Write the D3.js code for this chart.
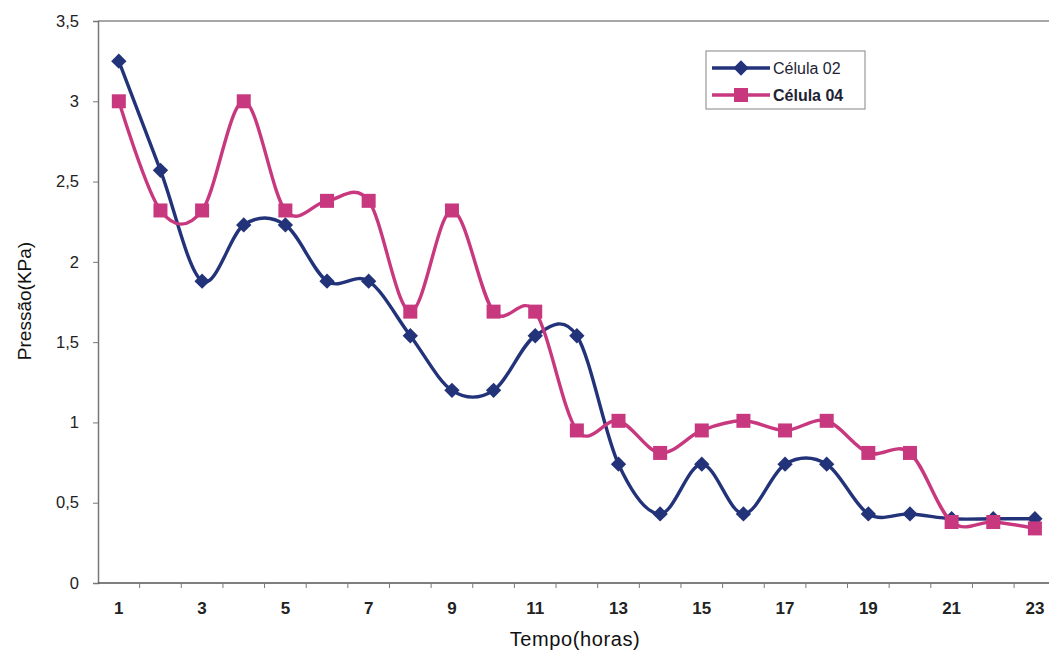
<!DOCTYPE html>
<html>
<head>
<meta charset="utf-8">
<script src="https://cdn.jsdelivr.net/npm/d3@7"></script>
<style>
  body { margin: 0; background: #fff; }
  svg { display: block; font-family: "Liberation Sans", Arial, sans-serif; }
</style>
</head>
<body>
<svg id="chart" width="1049" height="659"></svg>
<script>
// Hours of measurement (category axis)
const hours = d3.range(1, 24);
const xTickLabels = [1, 3, 5, 7, 9, 11, 13, 15, 17, 19, 21, 23];
const yTicks = [0, 0.5, 1, 1.5, 2, 2.5, 3, 3.5];

// Pressure readings (KPa)
const celula02 = [3.25, 2.57, 1.88, 2.23, 2.23, 1.88, 1.88, 1.54, 1.2, 1.2, 1.54, 1.54,
                  0.74, 0.43, 0.74, 0.43, 0.74, 0.74, 0.43, 0.43, 0.40, 0.40, 0.40];
const celula04 = [3.0, 2.32, 2.32, 3.0, 2.32, 2.38, 2.38, 1.69, 2.32, 1.69, 1.69, 0.95,
                  1.01, 0.81, 0.95, 1.01, 0.95, 1.01, 0.81, 0.81, 0.38, 0.38, 0.34];

const seriesNames = ["Célula 02", "Célula 04"];
const seriesColors = ["#23337a", "#c8387f"];

const svg = d3.select("#chart");
const plotLeft = 98, plotTop = 21, plotBottom = 583;
const band = 41.64;
const plotRight = plotLeft + band * hours.length;

const x = d3.scaleBand().domain(hours).range([plotLeft, plotRight]).paddingInner(0).paddingOuter(0);
const xc = d => x(d) + x.bandwidth() / 2;
const y = d3.scaleLinear().domain([0, 3.5]).range([plotBottom, plotTop]);

// top frame line
svg.append("line").attr("x1", plotLeft).attr("x2", 1049).attr("y1", plotTop).attr("y2", plotTop)
  .attr("stroke", "#8a8a8a").attr("stroke-width", 1.5);

// y axis
const yAxis = d3.axisLeft(y).tickValues(yTicks).tickSize(5)
  .tickFormat(d => String(d).replace(".", ","));
const gy = svg.append("g").attr("transform", `translate(${plotLeft},0)`).call(yAxis);
gy.select(".domain").attr("stroke", "#777").attr("stroke-width", 1.5);
gy.selectAll(".tick line").attr("stroke", "#777");
gy.selectAll(".tick text").attr("font-size", 16.5).attr("fill", "#222").attr("x", -19)
  .attr("font-family", "Liberation Sans, Arial, sans-serif");

// x axis: ticks between categories
const gx = svg.append("g").attr("transform", `translate(0,${plotBottom})`);
gx.append("line").attr("x1", plotLeft).attr("x2", 1049).attr("stroke", "#555").attr("stroke-width", 1.5);
gx.selectAll("line.tk").data(hours).join("line").attr("class", "tk")
  .attr("x1", d => x(d) + band).attr("x2", d => x(d) + band).attr("y1", 0).attr("y2", 5)
  .attr("stroke", "#777");
gx.selectAll("text").data(xTickLabels).join("text")
  .attr("x", d => xc(d)).attr("y", 31).attr("text-anchor", "middle")
  .attr("font-size", 17).attr("font-weight", "bold").attr("fill", "#222").text(d => d);

// axis titles
svg.append("text").attr("x", 575).attr("y", 646).attr("text-anchor", "middle")
  .attr("font-size", 20).attr("letter-spacing", 0.6).attr("fill", "#111").text("Tempo(horas)");
svg.append("text").attr("transform", "translate(31,301) rotate(-90)").attr("text-anchor", "middle")
  .attr("font-size", 19).attr("fill", "#111").text("Pressão(KPa)");

// series lines
const line = d3.line().x((d, i) => xc(hours[i])).y(d => y(d)).curve(d3.curveCatmullRom.alpha(0));
[celula02, celula04].forEach((vals, k) => {
  svg.append("path").datum(vals).attr("d", line).attr("fill", "none")
    .attr("stroke", seriesColors[k]).attr("stroke-width", 3.4);
});

// markers
const diamond = d3.symbol().type(d3.symbolDiamond2).size(150);
svg.append("g").selectAll("path").data(celula02).join("path")
  .attr("transform", (d, i) => `translate(${xc(hours[i])},${y(d)})`)
  .attr("d", diamond).attr("fill", seriesColors[0]);
svg.append("g").selectAll("rect").data(celula04).join("rect")
  .attr("x", (d, i) => xc(hours[i]) - 7).attr("y", d => y(d) - 7)
  .attr("width", 14).attr("height", 14).attr("fill", seriesColors[1]);

// legend
const lg = svg.append("g");
lg.append("rect").attr("x", 706).attr("y", 51).attr("width", 159).attr("height", 58)
  .attr("fill", "#fff").attr("stroke", "#999").attr("stroke-width", 1.2);
seriesNames.forEach((name, k) => {
  const ly = 68 + k * 27;
  lg.append("line").attr("x1", 712).attr("x2", 770).attr("y1", ly).attr("y2", ly)
    .attr("stroke", seriesColors[k]).attr("stroke-width", 3.4);
  if (k === 0) {
    lg.append("path").attr("transform", `translate(741,${ly})`).attr("d", diamond).attr("fill", seriesColors[k]);
  } else {
    lg.append("rect").attr("x", 734).attr("y", ly - 7).attr("width", 14).attr("height", 14).attr("fill", seriesColors[k]);
  }
  lg.append("text").attr("x", 773).attr("y", ly + 6).attr("font-size", 16)
    .attr("font-weight", k === 1 ? "bold" : "normal").attr("fill", "#1d2333").text(name);
});
</script>
</body>
</html>
